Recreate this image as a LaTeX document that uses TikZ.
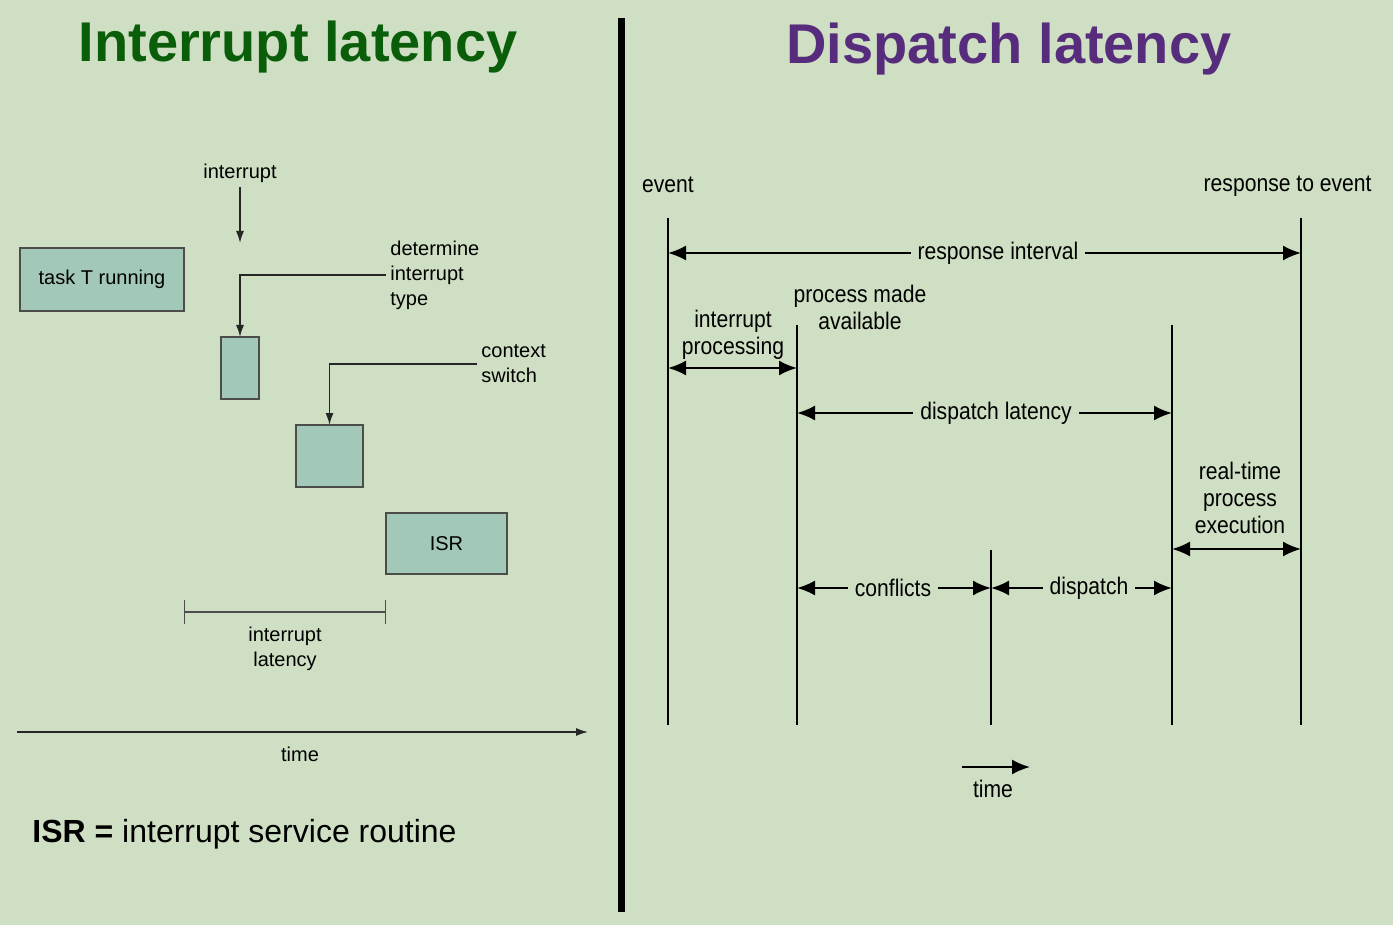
\documentclass[tikz,border=0pt]{standalone}
\usepackage{fontspec}
\setmainfont{Liberation Sans}
\newfontfamily\narrowsans[FakeStretch=0.88]{Liberation Sans}
\usetikzlibrary{arrows.meta,positioning}
\definecolor{bgsage}{RGB}{207,223,195}
\definecolor{boxteal}{RGB}{162,200,184}
\definecolor{titlegreen}{RGB}{10,94,10}
\definecolor{titlepurple}{RGB}{88,44,124}

\begin{document}
\begin{tikzpicture}[x=0.5pt,y=-0.5pt,
		lefttext/.style={font=\fontsize{10}{12.5}\selectfont,inner sep=2pt},
		righttext/.style={font=\narrowsans\fontsize{12}{13.5}\selectfont,align=center},
		cpu/.style={draw=black!70,fill=boxteal,line width=0.6pt,inner sep=0pt,outer sep=0pt},
		larr/.style={-{Latex[length=6pt,width=4pt]},line width=0.75pt,black!85},
		rarr/.style={-{Latex[length=9pt,width=7.5pt]},line width=1pt},
		twoway/.style={{Latex[length=9pt,width=7.5pt]}-{Latex[length=9pt,width=7.5pt]},line width=1pt}]
	\useasboundingbox (0,0) rectangle (1393,925);
	\fill[bgsage] (0,0) rectangle (1393,925);

	% titles and divider
	\node[font=\fontsize{28}{34}\selectfont\bfseries,text=titlegreen] (IL) at (298,47) {Interrupt latency};
	\node[font=\fontsize{28}{34}\selectfont\bfseries,text=titlepurple] (DL0) at (1009,49) {Dispatch latency};
	\coordinate (divT) at (621,18);
	\coordinate (divB) at (621,912);
	\draw[line width=3.5pt] (divT) -- (divB);

	% interrupt latency
	\node[cpu,minimum width=82pt,minimum height=31.5pt,lefttext] (TASK) at (102,279.5) {task T running};
	\node[cpu,minimum width=19pt,minimum height=31pt] (DET) at (240,368) {};
	\node[cpu,minimum width=33.5pt,minimum height=31pt] (CTX) at (329.5,456) {};
	\node[cpu,minimum width=60.5pt,minimum height=30.5pt,lefttext] (ISR) at (446.5,543.5) {ISR};

	\node[lefttext] (INT) at (240,173) {interrupt};
	\coordinate (intEnd) at (240,243);
	\draw[larr] (INT) -- (intEnd);

	\node[lefttext,align=left,anchor=west] (DETL) at (386,275) {determine\\interrupt\\type};
	\draw[larr] (DETL.west) -| (DET.north);
	\node[lefttext,align=left,anchor=west] (CTXL) at (477,364) {context\\switch};
	\draw[larr] (CTXL.west) -| (CTX.north);

	\coordinate (latL) at (184,612);
	\coordinate (latR) at (386,612);
	\draw[{Bar[width=12pt]}-{Bar[width=12pt]},line width=0.6pt,black!70] (latL) -- (latR);
	\node[lefttext,align=center] (LAT) at (285,649) {interrupt\\latency};

	\coordinate (t0) at (17,732);
	\coordinate (t1) at (588,732);
	\draw[larr] (t0) -- (t1);
	\node[lefttext] (TIME) at (300,754) {time};

	\node[font=\fontsize{16}{19}\selectfont,anchor=west,inner sep=0pt] (KEY) at (32,834) {\textbf{ISR =} interrupt service routine};

	% dispatch latency
	\foreach \n/\x/\t in {ev/668/218, pm/797/325, cf/991/550, dp/1172/325, rs/1301/218} {
			\coordinate (\n T) at (\x,\t);
			\coordinate (\n B) at (\x,725);
			\draw[line width=1pt] (\n T) -- (\n B);
		}

	\node[righttext] (EV) at (668,185) {event};
	\node[righttext,anchor=east,inner sep=0pt] (RE) at (1372,186) {response to event};

	\node[righttext] (RI) at (998,253) {response interval};
	\draw[rarr] (RI.west) -- (evT |- RI);
	\draw[rarr] (RI.east) -- (rsT |- RI);

	\node[righttext] (IP) at (733,335) {interrupt\\processing};
	\coordinate (ipL) at (668,368);
	\coordinate (ipR) at (797,368);
	\draw[twoway] (ipL) -- (ipR);

	\node[righttext] (PMA) at (860,307) {process made\\available};

	\node[righttext] (DLAT) at (996,413) {dispatch latency};
	\draw[rarr] (DLAT.west) -- (pmT |- DLAT);
	\draw[rarr] (DLAT.east) -- (dpT |- DLAT);

	\node[righttext] (RT) at (1240,498) {real-time\\process\\execution};
	\coordinate (rtL) at (1172,549);
	\coordinate (rtR) at (1301,549);
	\draw[twoway] (rtL) -- (rtR);

	\node[righttext] (CF) at (893,588) {conflicts};
	\draw[rarr] (CF.west) -- (pmT |- CF);
	\draw[rarr] (CF.east) -- (cfT |- CF);
	\node[righttext] (DS) at (1089,588) {dispatch};
	\draw[rarr] (DS.west) -- (cfT |- DS);
	\draw[rarr] (DS.east) -- (dpT |- DS);

	\coordinate (tr0) at (962,767);
	\coordinate (tr1) at (1030,767);
	\draw[rarr] (tr0) -- (tr1);
	\node[righttext] (TIMER) at (993,789) {time};
\end{tikzpicture}
\end{document}
